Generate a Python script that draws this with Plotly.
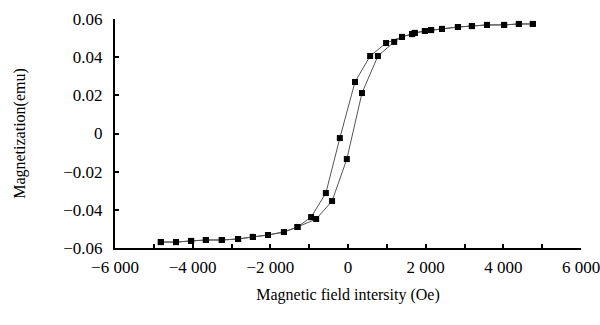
import plotly.graph_objects as go

# Descending branch (from +H to -H)
desc_h = [4760, 4400, 4020, 3580, 3190, 2830, 2420, 2140, 1980, 1720, 1650, 1390, 980,
          570, 180, -210, -570, -950, -1300, -1650, -2060, -2450, -2830, -3250, -3660, -4040, -4430, -4820]
desc_m = [0.0574, 0.0574, 0.0569, 0.0569, 0.0563, 0.0558, 0.0548, 0.0542, 0.0537, 0.0527, 0.0521, 0.0506, 0.0474,
          0.0406, 0.0270, -0.0024, -0.0312, -0.0438, -0.0490, -0.0516, -0.0532, -0.0542, -0.0553, -0.0558, -0.0558, -0.0563, -0.0569, -0.0569]

# Ascending branch (from -H to +H)
asc_h = [-4820, -4430, -4040, -3660, -3250, -2830, -2450, -2060, -1650, -1300,
         -820, -410, -30, 360, 770, 1190, 1390, 1650, 1720, 1980, 2140, 2420, 2830, 3190, 3580, 4020, 4400, 4760]
asc_m = [-0.0569, -0.0569, -0.0563, -0.0558, -0.0558, -0.0553, -0.0542, -0.0532, -0.0516, -0.0490,
         -0.0448, -0.0354, -0.0134, 0.0212, 0.0406, 0.0480, 0.0506, 0.0521, 0.0527, 0.0537, 0.0542, 0.0548, 0.0558, 0.0563, 0.0569, 0.0569, 0.0574, 0.0574]

x_tickvals = [-6000, -5000, -4000, -3000, -2000, -1000, 0, 1000, 2000, 3000, 4000, 5000, 6000]
x_ticktext = ["\u22126 000", "", "\u22124 000", "", "\u22122 000", "", "0", "", "2 000", "", "4 000", "", "6 000"]
y_tickvals = [-0.06, -0.04, -0.02, 0, 0.02, 0.04, 0.06]
y_ticktext = ["\u22120.06", "\u22120.04", "\u22120.02", "0", "0.02", "0.04", "0.06"]

font_family = "Liberation Serif"

fig = go.Figure()
for hx, my in [(desc_h, desc_m), (asc_h, asc_m)]:
    fig.add_trace(go.Scatter(
        x=hx, y=my, mode="lines+markers",
        line=dict(color="#555555", width=1),
        marker=dict(symbol="square", size=6, color="black"),
        showlegend=False, cliponaxis=False,
    ))

fig.update_layout(
    width=600, height=325,
    margin=dict(l=115, r=19, t=19, b=77),
    paper_bgcolor="white", plot_bgcolor="white",
    font=dict(family=font_family, color="black", size=16),
    xaxis=dict(
        range=[-6000, 6000], tickvals=x_tickvals, ticktext=x_ticktext,
        ticks="inside", ticklen=4, tickwidth=1.5, tickcolor="black",
        showline=True, linecolor="black", linewidth=2,
        showgrid=False, zeroline=False, automargin=False,
        ticklabeloverflow="allow",
        tickfont=dict(size=17, family=font_family),
        ticklabelstandoff=3,
        title=dict(text="Magnetic field intersity (Oe)", font=dict(size=16, family=font_family), standoff=12),
    ),
    yaxis=dict(
        range=[-0.06, 0.06], tickvals=y_tickvals, ticktext=y_ticktext,
        ticks="inside", ticklen=4, tickwidth=1.5, tickcolor="black",
        showline=True, linecolor="black", linewidth=2,
        showgrid=False, zeroline=False, automargin=False,
        ticklabeloverflow="allow",
        tickfont=dict(size=17, family=font_family),
        ticklabelstandoff=7,
        title=dict(text="Magnetization(emu)", font=dict(size=16, family=font_family), standoff=34),
    ),
)

fig.write_html("out.html", config={"displayModeBar": False},
               post_script="document.body.style.margin='0';")
